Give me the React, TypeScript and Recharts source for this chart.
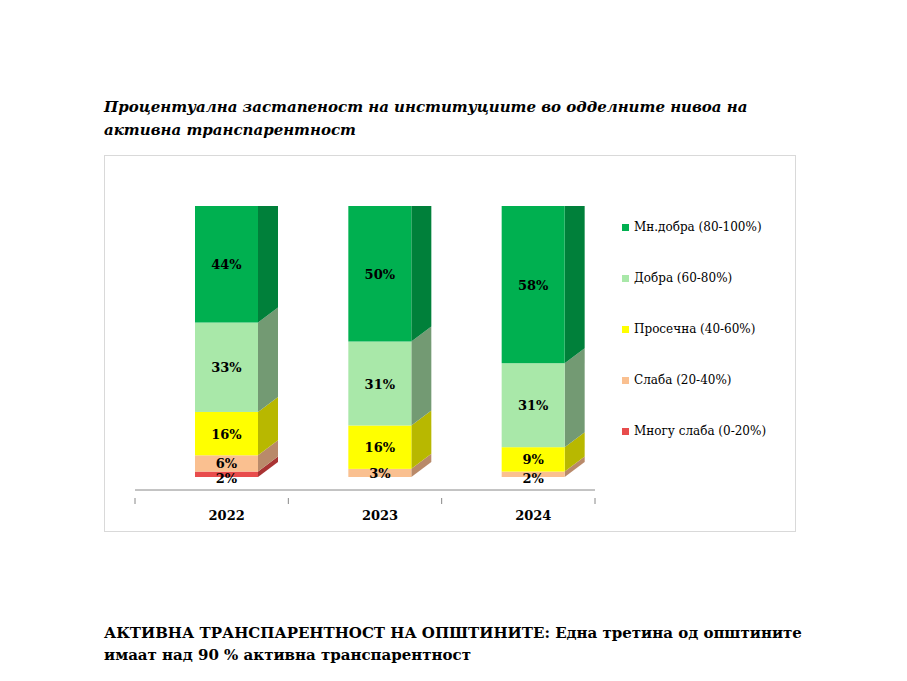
import React from 'react';
import { BarChart, Bar, XAxis, YAxis, LabelList } from 'recharts';

const years = ['2022', '2023', '2024'];
const veryWeak = [2, 0, 0];
const weak = [6, 3, 2];
const average = [16, 16, 9];
const good = [33, 31, 31];
const veryGood = [44, 50, 58];

const series = [
    { key: 'veryWeak', name: 'Многу слаба (0-20%)', color: '#e84c4c', side: '#a93333' },
    { key: 'weak', name: 'Слаба (20-40%)', color: '#fac090', side: '#b98a6a' },
    { key: 'average', name: 'Просечна (40-60%)', color: '#ffff00', side: '#b8b800' },
    { key: 'good', name: 'Добра (60-80%)', color: '#a9e8a9', side: '#739a73' },
    { key: 'veryGood', name: 'Мн.добра (80-100%)', color: '#00b050', side: '#00803a' },
];

const data = years.map((year, i) => ({
    year,
    veryWeak: veryWeak[i],
    weak: weak[i],
    average: average[i],
    good: good[i],
    veryGood: veryGood[i],
}));

const SHIFT = 15;
const DX = 20;
const DY = 15;

const make3D = (color: string, side: string) => (props: any) => {
    const { x, y, width, height } = props;
    if (!height || height <= 0) return <g />;
    const fx = x + SHIFT;
    return (
        <g>
            <polygon
                points={`${fx + width},${y} ${fx + width + DX},${y - DY} ${fx + width + DX},${y + height - DY} ${fx + width},${y + height}`}
                fill={side}
            />
            <rect x={fx} y={y} width={width} height={height} fill={color} />
        </g>
    );
};

const renderLabel = (props: any) => {
    const { x, y, width, height, value } = props;
    if (!value) return null;
    // the smallest segments get their label pushed a little down, as in the source
    const dy = height < 8 ? 4 : 0;
    return (
        <text
            x={x + SHIFT + width / 2}
            y={y + height / 2 + 5 + dy}
            textAnchor="middle"
            fontFamily="'DejaVu Serif', serif"
            fontWeight="bold"
            fontSize={13}
            fill="#000"
        >
            {value}%
        </text>
    );
};

const renderTick = (props: any) => {
    const { x, y, payload, index } = props;
    const half = 460 / 6;
    return (
        <g>
            <line x1={x - half} y1={y} x2={x - half} y2={y + 6} stroke="#888" />
            {index === 2 && <line x1={x + half} y1={y} x2={x + half} y2={y + 6} stroke="#888" />}
            <text x={x + SHIFT} y={y + 22} textAnchor="middle" fontFamily="'DejaVu Serif', serif" fontWeight="bold" fontSize={13} fill="#000">
                {payload.value}
            </text>
        </g>
    );
};

export default function App() {
    const legend = [...series].reverse();
    return (
        <div style={{ position: 'absolute', left: 0, top: 0, width: 907, height: 681, background: '#fff' }}>
            <div style={{ position: 'absolute', left: 104, top: 96, fontFamily: "'DejaVu Serif', serif", fontWeight: 'bold', fontStyle: 'italic', fontSize: 15, lineHeight: '23px', color: '#000' }}>
                Процентуална застапеност на институциите во одделните нивоа на<br />активна транспарентност
            </div>
            <div style={{ position: 'absolute', left: 104, top: 155, width: 690, height: 375, border: '1px solid #d9d9d9' }} />
            <div style={{ position: 'absolute', left: 0, top: 0 }}>
                <BarChart width={907} height={681} data={data} margin={{ top: 206, right: 312, left: 135, bottom: 0 }} barSize={63}>
                    <YAxis hide domain={[-4.8, 100]} type="number" allowDataOverflow />
                    <XAxis dataKey="year" axisLine={{ stroke: '#888' }} tickLine={false} tick={renderTick} height={191} interval={0} />
                    {series.map((s) => (
                        <Bar key={s.key} dataKey={s.key} stackId="a" fill={s.color} shape={make3D(s.color, s.side)} isAnimationActive={false}>
                            <LabelList dataKey={s.key} content={renderLabel} />
                        </Bar>
                    ))}
                </BarChart>
            </div>
            {legend.map((s, i) => (
                <div key={s.key} style={{ position: 'absolute', left: 622, top: 220 + i * 51, display: 'flex', alignItems: 'center', fontFamily: "'DejaVu Serif', serif", fontSize: 12, color: '#000' }}>
                    <span style={{ display: 'inline-block', width: 7, height: 7, background: s.color, marginRight: 5 }} />
                    {s.name}
                </div>
            ))}
            <div style={{ position: 'absolute', left: 104, top: 622, fontFamily: "'DejaVu Serif', serif", fontWeight: 'bold', fontSize: 15, lineHeight: '22px', color: '#000' }}>
                АКТИВНА ТРАНСПАРЕНТНОСТ НА ОПШТИНИТЕ: Една третина од општините<br />имаат над 90 % активна транспарентност
            </div>
        </div>
    );
}
